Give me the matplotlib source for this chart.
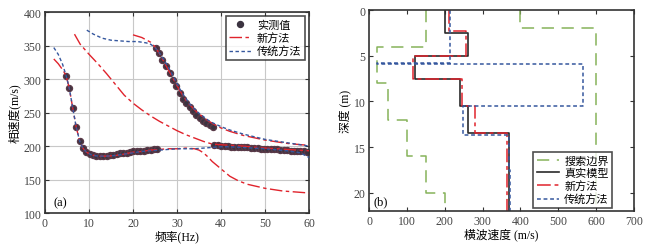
import numpy as np
import matplotlib
matplotlib.use('Agg')
import matplotlib.pyplot as plt

plt.rcParams['font.family'] = ['Liberation Serif', 'Noto Sans CJK SC']
plt.rcParams['font.size'] = 8.5
plt.rcParams['axes.unicode_minus'] = False

# ---- panel (a): dispersion curves ----
obs_f1 = [4.8, 5.5, 6.3, 7.1, 7.9, 8.6, 9.4, 10.2, 10.9, 11.7, 12.5, 13.2, 14.0, 14.8,
          15.5, 16.3, 17.1, 17.8, 18.6, 19.4, 20.1, 20.9, 21.7, 22.4, 23.2, 24.0, 24.7, 25.5]
obs_v1 = [305, 287, 257, 228, 207, 197, 191, 188, 186, 185, 185, 185, 185, 186,
          187, 188, 189, 190, 190, 191, 192, 192, 193, 193, 194, 194, 195, 195]
obs_f2 = [25.2, 26.0, 26.7, 27.5, 28.3, 29.0, 29.8, 30.6, 31.3, 32.1, 32.9, 33.6,
          34.4, 35.2, 35.9, 36.7, 37.5, 38.2]
obs_v2 = [347, 339, 329, 319, 309, 299, 289, 279, 271, 264, 258, 252,
          247, 242, 238, 235, 232, 229]
obs_f3 = [38.5, 39.3, 40.0, 40.8, 41.5, 42.3, 43.0, 43.8, 44.5, 45.3, 46.0, 46.8, 47.5,
          48.3, 49.0, 49.8, 50.5, 51.3, 52.0, 52.8, 53.5, 54.3, 55.0, 55.8, 56.5, 57.3,
          58.0, 58.8, 59.5]
obs_v3 = [201, 201, 200, 200, 200, 199, 199, 199, 198, 198, 198, 197, 197,
          197, 196, 196, 196, 195, 195, 195, 194, 194, 194, 193, 193, 193,
          192, 192, 191]

new_f1 = [2, 3, 4, 4.8, 5.5, 6.3, 7.1, 7.9, 8.6, 9.4, 10.5, 12, 14, 16, 18, 20, 22, 24, 26,
          28, 30, 32, 34, 35, 36, 37, 38, 40, 42, 44, 46, 48, 50, 52, 54, 56, 58, 60]
new_v1 = [330, 323, 314, 305, 287, 257, 228, 207, 197, 191, 187, 185, 185, 186, 188, 191, 192, 194, 195,
          196, 196, 197, 196, 194, 190, 184, 177, 166, 155, 148, 143, 140, 137, 135, 133, 132, 131, 130]
new_f2 = [6.7, 8, 10, 12, 14, 16, 18, 20, 22, 24, 26, 28, 30, 32, 34, 36, 38, 40, 45, 50, 55, 60]
new_v2 = [367, 352, 337, 323, 308, 292, 276, 264, 254, 245, 237, 230, 223, 217, 212, 207, 203,
          202, 200, 197, 195, 193]
new_f3 = [20, 22, 24, 25, 26, 27, 28, 29, 30, 31, 32, 33, 34, 35, 36, 37, 38, 40, 42, 45, 50, 55, 60]
new_v3 = [366, 362, 355, 348, 338, 326, 314, 302, 290, 279, 269, 261, 254, 248, 243, 238, 234,
          227, 222, 216, 209, 204, 201]

old_f1 = [2, 3, 4, 4.8, 5.5, 6.3, 7.1, 7.9, 8.6, 9.4, 10.5, 12, 14, 16, 18, 20, 22, 24, 26,
          28, 30, 32, 34, 36, 38, 40, 42, 45, 50, 55, 58, 60]
old_v1 = [347, 337, 322, 305, 287, 257, 228, 207, 197, 191, 187, 185, 185, 186, 188, 190, 192, 193, 194,
          195, 196, 196, 196, 197, 198, 199, 199, 198, 196, 193, 190, 183]
old_f2 = [9.5, 11, 13, 15, 17, 19, 21, 23, 24, 25, 26, 27, 28, 29, 30, 31, 32, 33, 34, 35, 36,
          37, 38, 40, 42, 45, 50, 55, 60]
old_v2 = [373, 367, 361, 358, 357, 356, 356, 354, 352, 347, 339, 329, 318, 306, 293, 281, 271,
          262, 255, 249, 244, 239, 235, 229, 224, 218, 210, 205, 200]

# ---- panel (b): Vs profiles (layer boundaries, layer velocities) ----
low_z = [0, 4, 8, 12, 16, 20, 22]
low_v = [150, 20, 50, 100, 150, 200]
up_z = [0, 2, 22]
up_v = [400, 600]
true_z = [0, 2.5, 5, 7.5, 10.5, 13.5, 22]
true_v = [200, 260, 120, 240, 260, 370]
new_z = [0, 2.3, 5, 7.5, 10.5, 13.5, 22]
new_v = [210, 255, 115, 245, 280, 365]
old_z = [0, 5.8, 5.9, 10.5, 13.7, 17.5, 22]
old_v = [213, 20, 565, 247, 370, 373]

RED = '#e0232c'
BLUE = '#35579e'
GREEN = '#86b35a'
DOT = '#3b3340'
new_dash = (0, (9, 2.5, 2.5, 2.5))
old_dash = (0, (2.5, 1.8))


def profile(z, v):
    z = np.repeat(np.asarray(z, float), 2)[1:-1]
    v = np.repeat(np.asarray(v, float), 2)
    return v, z


fig = plt.figure(figsize=(6.55, 2.51), dpi=100)
ax1 = fig.add_axes([0.0687, 0.147, 0.4031, 0.801])
ax2 = fig.add_axes([0.5635, 0.155, 0.4045, 0.801])

# (a)
ax1.grid(True, color='#c8c8c8', lw=0.8)
ax1.set_axisbelow(True)
for f, v in [(obs_f1, obs_v1), (obs_f2, obs_v2), (obs_f3, obs_v3)]:
    ax1.plot(f, v, 'o', color=DOT, mec='#5a3a48', ms=4.3, zorder=2)
ax1.plot([], [], 'o', color=DOT, ms=4.3, label='实测值')
for f, v in [(new_f1, new_v1), (new_f2, new_v2), (new_f3, new_v3)]:
    ax1.plot(f, v, color=RED, lw=1.0, ls=new_dash, zorder=3)
ax1.plot([], [], color=RED, lw=1.0, ls=new_dash, label='新方法')
for f, v in [(old_f1, old_v1), (old_f2, old_v2)]:
    ax1.plot(f, v, color=BLUE, lw=1.0, ls=old_dash, zorder=3)
ax1.plot([], [], color=BLUE, lw=1.0, ls=old_dash, label='传统方法')
ax1.set_xlim(0, 60)
ax1.set_ylim(100, 400)
ax1.set_xticks(range(0, 61, 10))
ax1.set_yticks(range(100, 401, 50))
ax1.set_xlabel('频率(Hz)', labelpad=1)
ax1.set_ylabel('相速度(m/s)', labelpad=2)
ax1.text(2, 112, '(a)', fontsize=9)
leg1 = ax1.legend(loc='upper right', fontsize=8, frameon=True, fancybox=False,
                  edgecolor='#222222', handlelength=2.0, borderpad=0.3,
                  labelspacing=0.2, handletextpad=0.5, borderaxespad=0.4)
leg1.get_frame().set_linewidth(1.2)

# (b)
x, z = profile(low_z, low_v)
ax2.plot(x, z, color=GREEN, lw=1.1, ls=(0, (8, 5)), label='搜索边界')
x, z = profile(up_z, up_v)
ax2.plot(x, z, color=GREEN, lw=1.1, ls=(0, (8, 5)))
x, z = profile(true_z, true_v)
ax2.plot(x, z, color='#2a2a2a', lw=1.2, label='真实模型')
x, z = profile(new_z, new_v)
ax2.plot(x, z, color=RED, lw=1.1, ls=new_dash, label='新方法')
x, z = profile(old_z, old_v)
ax2.plot(x, z, color=BLUE, lw=1.1, ls=old_dash, label='传统方法')
ax2.set_xlim(0, 700)
ax2.set_ylim(22, 0)
ax2.set_xticks(range(0, 701, 100))
ax2.set_yticks(range(0, 21, 5))
ax2.set_xlabel('横波速度 (m/s)', labelpad=1)
ax2.set_ylabel('深度 (m)', labelpad=2)
ax2.text(12, 21.2, '(b)', fontsize=9)
leg2 = ax2.legend(loc='lower right', fontsize=8, frameon=True, fancybox=False,
                  edgecolor='#222222', handlelength=2.0, borderpad=0.3,
                  labelspacing=0.2, handletextpad=0.5, borderaxespad=0.3,
                  bbox_to_anchor=(0.93, 0.0))
leg2.get_frame().set_linewidth(1.2)

for ax in (ax1, ax2):
    ax.tick_params(direction='in', top=True, right=True, length=3, width=0.8,
                   colors='#333333', labelcolor='#444444', pad=2.5)
    for s in ax.spines.values():
        s.set_linewidth(1.2)
        s.set_color('#333333')

fig.savefig('out.png', dpi=100)
